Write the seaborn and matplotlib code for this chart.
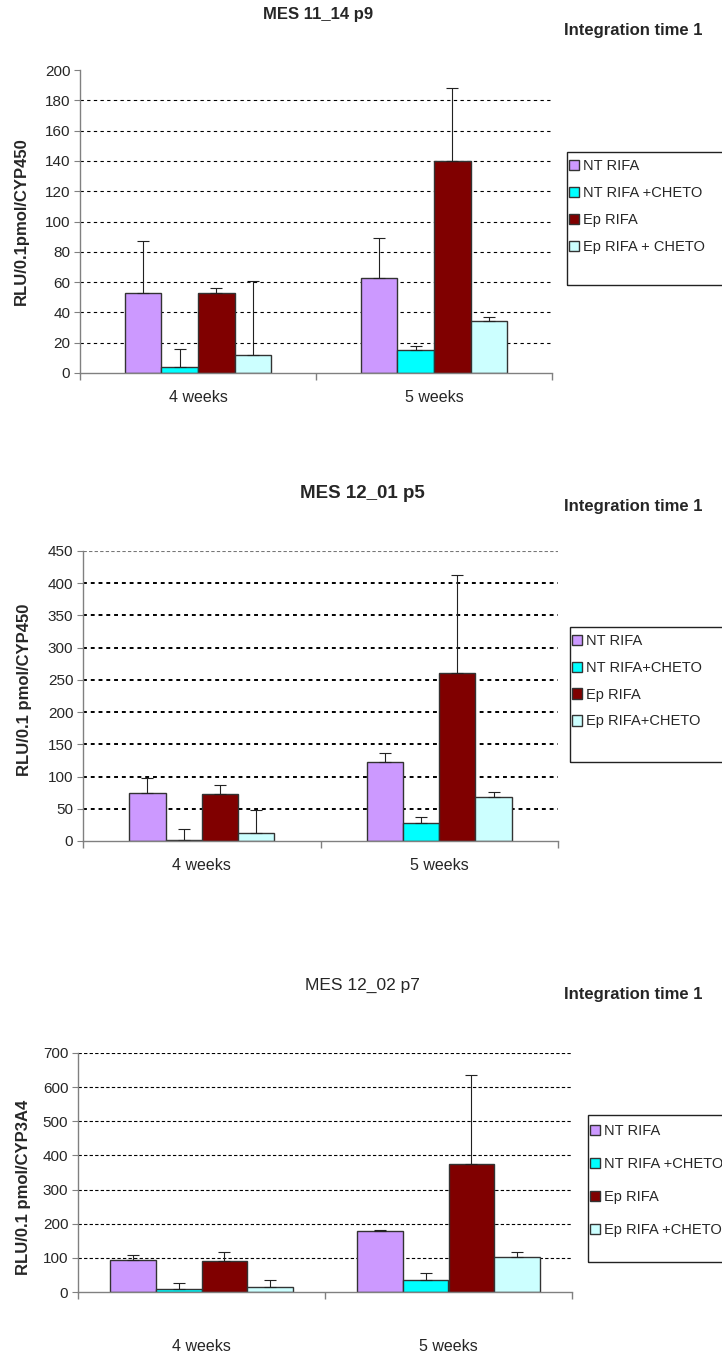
import numpy as np
import pandas as pd
import matplotlib
matplotlib.use("Agg")
import matplotlib.pyplot as plt
from matplotlib.patches import Rectangle
import seaborn as sns

sns.set_style("white")
plt.rcParams['font.family'] = ['Liberation Sans', 'DejaVu Sans']

weeks = ["4 weeks", "5 weeks"]
treatments = ["NT RIFA", "NT RIFA+CHETO", "Ep RIFA", "Ep RIFA+CHETO"]
colors = ["#CC99FF", "#00FFFF", "#800000", "#CCFFFF"]

# panel 1 : MES 11_14 p9
p1_4w = [53, 4, 53, 12]
p1_5w = [63, 15, 140, 34]
p1_err_4w = [34, 12, 3, 49]
p1_err_5w = [26, 3, 48, 3]
p1_legend = ["NT RIFA", "NT RIFA +CHETO", "Ep RIFA", "Ep RIFA + CHETO"]

# panel 2 : MES 12_01 p5
p2_4w = [75, 2, 73, 12]
p2_5w = [123, 28, 260, 68]
p2_err_4w = [22, 17, 14, 36]
p2_err_5w = [14, 10, 152, 8]
p2_legend = ["NT RIFA", "NT RIFA+CHETO", "Ep RIFA", "Ep RIFA+CHETO"]

# panel 3 : MES 12_02 p7
p3_4w = [95, 10, 90, 15]
p3_5w = [180, 35, 375, 103]
p3_err_4w = [12, 17, 27, 20]
p3_err_5w = [3, 22, 260, 14]
p3_legend = ["NT RIFA", "NT RIFA +CHETO", "Ep RIFA", "Ep RIFA +CHETO"]

W, H = 722, 1359
fig = plt.figure(figsize=(W / 100, H / 100), dpi=100)


def fx(px):
    return px / W


def fy(py):
    return 1 - py / H


def panel(box, vals_4w, vals_5w, err_4w, err_5w, ymax, step, ylabel,
          legend_labels, leg_box, leg_spacing, bar_width, grid_style, xpad,
          ylab_px, hide_top_grid=False, light_top_grid=False):
    x0, y0, x1, y1 = box
    ax = fig.add_axes([fx(x0), fy(y1), fx(x1) - fx(x0), fy(y0) - fy(y1)])
    df = pd.DataFrame({
        "week": np.repeat(weeks, len(treatments)),
        "treatment": treatments * 2,
        "value": vals_4w + vals_5w,
        "err": err_4w + err_5w,
    })
    sns.barplot(data=df, x="week", y="value", hue="treatment",
                hue_order=treatments, palette=colors, width=bar_width, gap=0,
                edgecolor="#333333", linewidth=1.0, errorbar=None, ax=ax,
                saturation=1)
    # one-sided error bars
    bar_conts = list(ax.containers)
    for i, cont in enumerate(bar_conts):
        for j, bar in enumerate(cont):
            row = df[(df.treatment == treatments[i]) & (df.week == weeks[j])].iloc[0]
            xc = bar.get_x() + bar.get_width() / 2
            ax.errorbar(xc, row.value, yerr=[[0], [row.err]], fmt="none",
                        ecolor="#222222", elinewidth=0.8, capsize=4,
                        capthick=0.8)
    ax.set_xlim(-0.5, 1.5)
    ax.set_ylim(0, ymax)
    ax.set_yticks(np.arange(0, ymax + 1, step))
    ax.set_xticks([0, 1], labels=weeks)
    ax.set_xticks([-0.5, 0.5, 1.5], minor=True)
    ax.tick_params(axis="x", which="major", length=0, pad=xpad, labelsize=11.5)
    ax.tick_params(axis="x", which="minor", length=5, direction="out",
                   color="#808080", width=1, bottom=True)
    ax.tick_params(axis="y", length=4, direction="out", color="#808080",
                   labelsize=11, pad=3, left=True)
    ax.set_xlabel("")
    ax.set_ylabel(ylabel, fontsize=12, fontweight="bold", va="center")
    lx, ly = ylab_px
    ax.yaxis.set_label_coords((lx - x0) / (x1 - x0), (y1 - ly) / (y1 - y0))
    ax.yaxis.grid(True, color="black", **grid_style)
    ax.set_axisbelow(True)
    glines = ax.get_ygridlines()
    glines[0].set_visible(False)
    if hide_top_grid:
        glines[-1].set_visible(False)
    if light_top_grid:
        glines[-1].set_color("#777777")
        glines[-1].set_linewidth(0.8)
        glines[-1].set_linestyle((0, (3, 2)))
    for s in ["top", "right"]:
        ax.spines[s].set_visible(False)
    for s in ["left", "bottom"]:
        ax.spines[s].set_color("#808080")
        ax.spines[s].set_linewidth(1)
    handles, _ = ax.get_legend_handles_labels()
    lx0, ly0, ly1, first = leg_box
    fig.patches.append(Rectangle((fx(lx0), fy(ly1)), 1.0, fy(ly0) - fy(ly1),
                                 transform=fig.transFigure, fill=False,
                                 edgecolor="#222222", linewidth=1))
    ax.legend(handles, legend_labels, loc="upper left",
              bbox_to_anchor=(fx(lx0 + 2), fy(first - 6)),
              bbox_transform=fig.transFigure, frameon=False, fontsize=10.5,
              handlelength=0.7, handleheight=0.7, handletextpad=0.25,
              labelspacing=leg_spacing, borderaxespad=0, borderpad=0)
    return ax


panel((80, 70, 552, 373), p1_4w, p1_5w, p1_err_4w, p1_err_5w, 200, 20,
      "RLU/0.1pmol/CYP450", p1_legend, (567, 152, 285, 165), 0.9, 0.62,
      dict(linestyle=(0, (3, 3)), linewidth=0.8), 12, (21, 221),
      hide_top_grid=True)
panel((83, 551, 558, 841), p2_4w, p2_5w, p2_err_4w, p2_err_5w, 450, 50,
      "RLU/0.1 pmol/CYP450", p2_legend, (570, 627, 762, 640), 0.88, 0.61,
      dict(linestyle=(0, (2, 2)), linewidth=1.4), 12, (25, 690),
      light_top_grid=True)
panel((78, 1053, 572, 1292), p3_4w, p3_5w, p3_err_4w, p3_err_5w, 700, 100,
      "RLU/0.1 pmol/CYP3A4", p3_legend, (588, 1115, 1262, 1130), 1.3, 0.74,
      dict(linestyle=(0, (3, 2)), linewidth=0.8), 34, (24, 1187))

fig.text(fx(318), fy(15), "MES 11_14 p9", ha="center", va="center",
         fontsize=12, fontweight="bold")
fig.text(fx(633), fy(30), "Integration time 1", ha="center", va="center",
         fontsize=12, fontweight="bold")
fig.text(fx(362), fy(493), "MES 12_01 p5", ha="center", va="center",
         fontsize=13.5, fontweight="bold")
fig.text(fx(633), fy(507), "Integration time 1", ha="center", va="center",
         fontsize=12, fontweight="bold")
fig.text(fx(362), fy(985), "MES 12_02 p7", ha="center", va="center",
         fontsize=12.5)
fig.text(fx(633), fy(994), "Integration time 1", ha="center", va="center",
         fontsize=12, fontweight="bold")

fig.savefig("out.png", dpi=100)
